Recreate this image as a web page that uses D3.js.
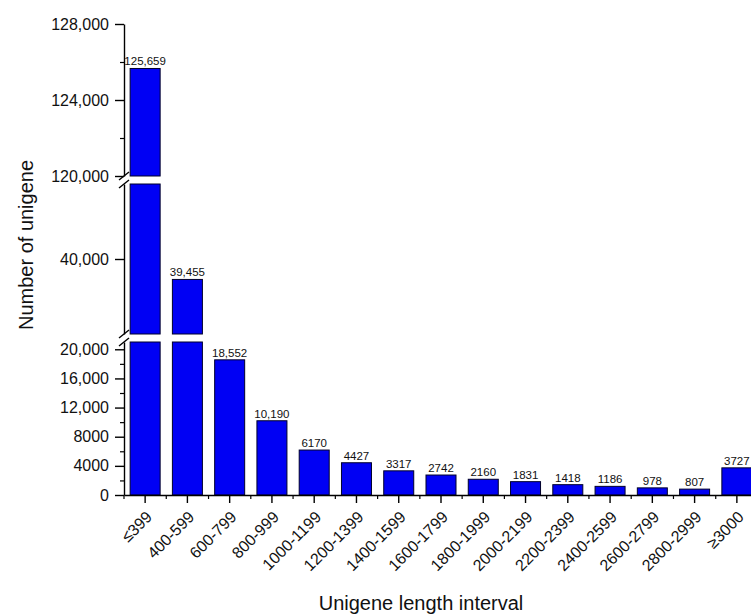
<!DOCTYPE html>
<html>
<head>
<meta charset="utf-8">
<script src="https://cdn.jsdelivr.net/npm/d3@7/dist/d3.min.js"></script>
<style>
  html, body { margin: 0; padding: 0; background: #fff; }
  svg { display: block; font-family: "Liberation Sans", Arial, sans-serif; }
</style>
</head>
<body>
<svg id="chart" width="751" height="615"></svg>
<script>
// Unigene length distribution
const categories = ["≤399", "400-599", "600-799", "800-999", "1000-1199", "1200-1399",
  "1400-1599", "1600-1799", "1800-1999", "2000-2199", "2200-2399", "2400-2599",
  "2600-2799", "2800-2999", "≥3000"];
const counts = [125659, 39455, 18552, 10190, 6170, 4427, 3317, 2742, 2160, 1831,
  1418, 1186, 978, 807, 3727];

// Broken y axis: three value windows, each with its own ticks
const segDomains = [[0, 21000], [38000, 42000], [120000, 128000]];
const segMajor = [[0, 4000, 8000, 12000, 16000, 20000], [40000], [120000, 124000, 128000]];
const segMinor = [[2000, 6000, 10000, 14000, 18000], [], [122000, 126000]];

const yTitle = "Number of unigene";
const xTitle = "Unigene length interval";

const svg = d3.select("#chart");
const axisX = 124;
const baseY = 495;
const segRanges = [[495, 342], [334, 184], [176, 24]];

const fmt = v => v >= 10000 ? d3.format(",")(v) : String(v);

const x = d3.scaleBand()
  .domain(categories)
  .range([axisX, 758])
  .paddingInner(0.29)
  .paddingOuter(0.145);

const segs = segDomains.map((dom, i) => ({
  y: d3.scaleLinear().domain(dom).range(segRanges[i]),
  dom, major: segMajor[i], minor: segMinor[i]
}));

const barFill = "#0000f4";
const barStroke = "#00002a";

// bars, split across the axis windows
const gBars = svg.append("g");
segs.forEach(s => {
  const inSeg = categories.map((c, i) => ({ c, v: counts[i] })).filter(d => d.v > s.dom[0]);
  gBars.selectAll(null)
    .data(inSeg)
    .join("rect")
    .attr("x", d => x(d.c))
    .attr("width", x.bandwidth())
    .attr("y", d => s.y(Math.min(d.v, s.dom[1])))
    .attr("height", d => s.y(s.dom[0]) - s.y(Math.min(d.v, s.dom[1])))
    .attr("fill", barFill)
    .attr("stroke", barStroke)
    .attr("stroke-width", 1);
});

// value labels, placed in the window that holds the value
const labelData = categories.map((c, i) => ({ c, v: counts[i] }));
svg.append("g").selectAll("text")
  .data(labelData)
  .join("text")
  .attr("x", d => x(d.c) + x.bandwidth() / 2)
  .attr("y", d => {
    const s = segs.find(s => d.v >= s.dom[0] && d.v <= s.dom[1]);
    return s.y(d.v) - 3;
  })
  .attr("text-anchor", "middle")
  .attr("font-size", 11.5)
  .attr("fill", "#111")
  .text(d => fmt(d.v));

// y axis segments
segs.forEach(s => {
  const g = svg.append("g").attr("transform", `translate(${axisX},0)`);
  g.call(d3.axisLeft(s.y).tickValues(s.major).tickSize(9).tickSizeOuter(0).tickPadding(6).tickFormat(fmt));
  g.select(".domain").attr("stroke-width", 1.4);
  g.selectAll(".tick line").attr("stroke-width", 1.4);
  g.selectAll(".tick text").attr("font-size", 16).attr("fill", "#111").attr("font-family", "Liberation Sans, Arial, sans-serif");
  const gm = svg.append("g").attr("transform", `translate(${axisX},0)`);
  gm.call(d3.axisLeft(s.y).tickValues(s.minor).tickSize(4).tickFormat(""));
  gm.select(".domain").remove();
  gm.selectAll(".tick line").attr("stroke-width", 1.2);
});

// break marks on the y axis
const breaks = [segRanges[0][1], segRanges[1][0], segRanges[1][1], segRanges[2][0]];
svg.append("g").selectAll("line")
  .data(breaks)
  .join("line")
  .attr("x1", axisX - 5).attr("x2", axisX + 5)
  .attr("y1", d => d + 4).attr("y2", d => d - 4)
  .attr("stroke", "#000").attr("stroke-width", 1.4);

// x axis
const gx = svg.append("g").attr("transform", `translate(0,${baseY})`);
gx.call(d3.axisBottom(x).tickSize(8).tickSizeOuter(0).tickFormat(""));
gx.select(".domain").attr("stroke-width", 1.4);
gx.selectAll(".tick line").attr("stroke-width", 1.4);

// minor ticks on band boundaries
const step = x.step();
const bounds = categories.map(c => x(c) + x.bandwidth() / 2 - step / 2);
bounds.push(x(categories[categories.length - 1]) + x.bandwidth() / 2 + step / 2);
gx.selectAll(".minor")
  .data(bounds)
  .join("line")
  .attr("class", "minor")
  .attr("x1", d => d).attr("x2", d => d)
  .attr("y1", 0).attr("y2", 4)
  .attr("stroke", "#000").attr("stroke-width", 1.2);

// rotated category labels
svg.append("g").selectAll("text")
  .data(categories)
  .join("text")
  .attr("transform", d => `translate(${x(d) + x.bandwidth() / 2 + 8},${baseY + 23}) rotate(-45)`)
  .attr("text-anchor", "end")
  .attr("font-size", 16)
  .attr("fill", "#111")
  .text(d => d);

// axis titles
svg.append("text")
  .attr("transform", `translate(33,245) rotate(-90)`)
  .attr("text-anchor", "middle")
  .attr("font-size", 20)
  .attr("fill", "#111")
  .text(yTitle);

svg.append("text")
  .attr("x", 421)
  .attr("y", 610)
  .attr("text-anchor", "middle")
  .attr("font-size", 20)
  .attr("fill", "#111")
  .text(xTitle);
</script>
</body>
</html>
